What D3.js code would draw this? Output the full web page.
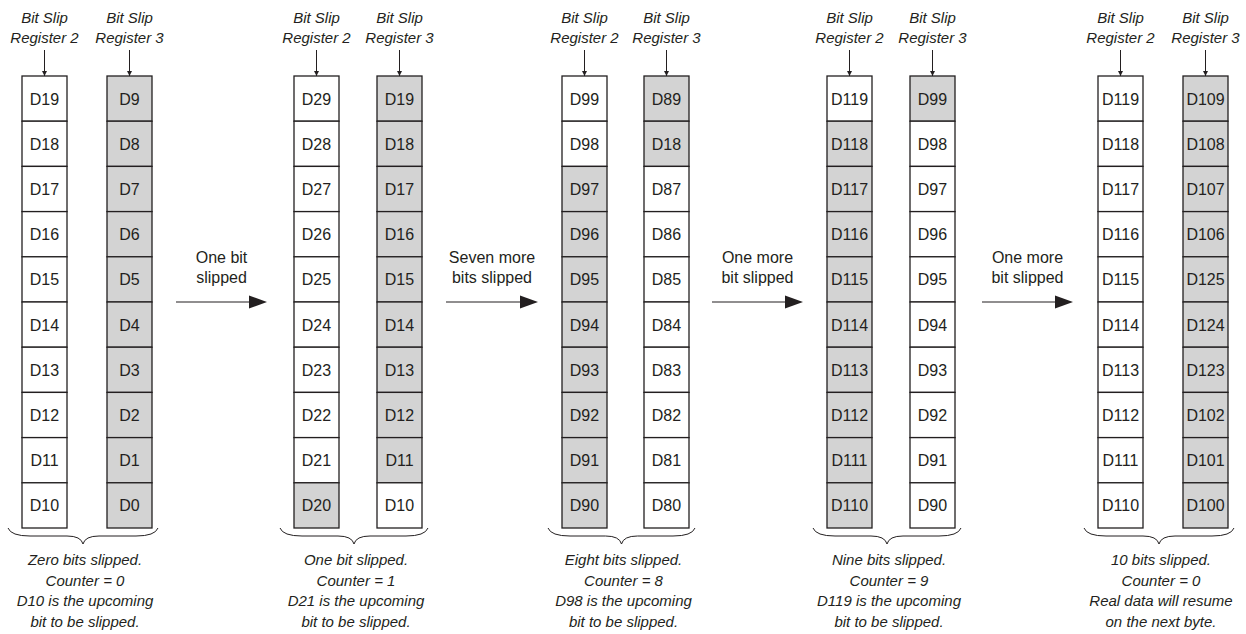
<!DOCTYPE html>
<html>
<head>
<meta charset="utf-8">
<script src="https://cdn.jsdelivr.net/npm/d3@7"></script>
<style>
  html, body { margin: 0; padding: 0; background: #fff; }
  svg { display: block; }
  text { font-family: "Liberation Sans", Arial, Helvetica, sans-serif; fill: #231f20; }
</style>
</head>
<body>
<svg id="chart" width="1246" height="634"></svg>
<script>
// ---- data ----
const headerLines = ["Bit Slip", "Register 2", "Register 3"];

const reg2Labels = [
  ["D19","D18","D17","D16","D15","D14","D13","D12","D11","D10"],
  ["D29","D28","D27","D26","D25","D24","D23","D22","D21","D20"],
  ["D99","D98","D97","D96","D95","D94","D93","D92","D91","D90"],
  ["D119","D118","D117","D116","D115","D114","D113","D112","D111","D110"],
  ["D119","D118","D117","D116","D115","D114","D113","D112","D111","D110"]
];
const reg2Shaded = [
  [0,0,0,0,0,0,0,0,0,0],
  [0,0,0,0,0,0,0,0,0,1],
  [0,0,1,1,1,1,1,1,1,1],
  [0,1,1,1,1,1,1,1,1,1],
  [0,0,0,0,0,0,0,0,0,0]
];
const reg3Labels = [
  ["D9","D8","D7","D6","D5","D4","D3","D2","D1","D0"],
  ["D19","D18","D17","D16","D15","D14","D13","D12","D11","D10"],
  ["D89","D18","D87","D86","D85","D84","D83","D82","D81","D80"],
  ["D99","D98","D97","D96","D95","D94","D93","D92","D91","D90"],
  ["D109","D108","D107","D106","D125","D124","D123","D102","D101","D100"]
];
const reg3Shaded = [
  [1,1,1,1,1,1,1,1,1,1],
  [1,1,1,1,1,1,1,1,1,0],
  [1,1,0,0,0,0,0,0,0,0],
  [1,0,0,0,0,0,0,0,0,0],
  [1,1,1,1,1,1,1,1,1,1]
];
const captions = [
  ["Zero bits slipped.", "Counter = 0", "D10 is the upcoming", "bit to be slipped."],
  ["One bit slipped.", "Counter = 1", "D21 is the upcoming", "bit to be slipped."],
  ["Eight bits slipped.", "Counter = 8", "D98 is the upcoming", "bit to be slipped."],
  ["Nine bits slipped.", "Counter = 9", "D119 is the upcoming", "bit to be slipped."],
  ["10 bits slipped.", "Counter = 0", "Real data will resume", "on the next byte."]
];
const arrowLabels = [
  ["One bit", "slipped"],
  ["Seven more", "bits slipped"],
  ["One more", "bit slipped"],
  ["One more", "bit slipped"]
];

// ---- layout ----
const reg2X = [22, 294, 562, 827, 1098];
const reg3X = [107, 377, 644, 910, 1183];
const arrowX = [[176, 267], [446, 538], [712, 803], [982, 1073]];
const colW = 45;
const colTop = 76, colBottom = 528;
const ink = "#231f20", shade = "#d3d3d3";

const svg = d3.select("#chart");
const yBand = d3.scaleBand().domain(d3.range(10)).range([colTop, colBottom]).paddingInner(0).paddingOuter(0);

svg.append("defs").append("marker")
  .attr("id", "vhead").attr("viewBox", "0 0 10 10").attr("refX", 10).attr("refY", 5)
  .attr("markerWidth", 5).attr("markerHeight", 7).attr("markerUnits", "userSpaceOnUse")
  .attr("orient", "auto")
  .append("path").attr("d", "M0,0 L10,5 L0,10 Z").attr("fill", ink);

function drawColumn(x, labels, shaded, regName) {
  const g = svg.append("g");
  const cx = x + colW / 2;
  // header
  const t = g.append("text").attr("text-anchor", "middle")
    .attr("font-style", "italic").attr("font-size", "15px");
  t.append("tspan").attr("x", cx).attr("y", 23).text(headerLines[0]);
  t.append("tspan").attr("x", cx).attr("y", 43).text(regName);
  // pointer arrow
  g.append("line").attr("x1", cx).attr("x2", cx).attr("y1", 50).attr("y2", colTop)
    .attr("stroke", ink).attr("stroke-width", 1).attr("marker-end", "url(#vhead)");
  // cells
  const cells = g.selectAll("g.cell").data(labels).join("g").attr("class", "cell");
  cells.append("rect")
    .attr("x", x).attr("y", (d, i) => yBand(i))
    .attr("width", colW).attr("height", yBand.bandwidth())
    .attr("fill", (d, i) => shaded[i] ? shade : "#fff")
    .attr("stroke", ink).attr("stroke-width", 1.3);
  cells.append("text")
    .attr("x", cx).attr("y", (d, i) => yBand(i) + yBand.bandwidth() / 2 + 6)
    .attr("text-anchor", "middle").attr("font-size", "16px")
    .text(d => d);
}

reg2X.forEach((x, gi) => {
  drawColumn(reg2X[gi], reg2Labels[gi], reg2Shaded[gi], headerLines[1]);
  drawColumn(reg3X[gi], reg3Labels[gi], reg3Shaded[gi], headerLines[2]);

  // brace
  const x0 = reg2X[gi] - 14, x1 = reg3X[gi] + colW + 6;
  const tip = (reg2X[gi] + reg3X[gi] + colW) / 2 - 4;
  const y0 = colBottom, ym = colBottom + 8, yt = colBottom + 16;
  const p = d3.path();
  p.moveTo(x0, y0);
  p.quadraticCurveTo(x0 + 3, ym, x0 + 22, ym);
  p.lineTo(tip - 16, ym);
  p.quadraticCurveTo(tip - 2, ym, tip, yt);
  p.quadraticCurveTo(tip + 2, ym, tip + 16, ym);
  p.lineTo(x1 - 22, ym);
  p.quadraticCurveTo(x1 - 3, ym, x1, y0);
  svg.append("path").attr("d", p.toString()).attr("fill", "none")
    .attr("stroke", ink).attr("stroke-width", 1);

  // caption
  const c = svg.append("text").attr("text-anchor", "middle")
    .attr("font-style", "italic").attr("font-size", "15px");
  captions[gi].forEach((line, li) => {
    c.append("tspan").attr("x", tip + 2).attr("y", 565 + li * 20.6).text(line);
  });
});

// transition arrows
arrowX.forEach(([xa, xb], ai) => {
  const g = svg.append("g");
  const ay = 302;
  g.append("line").attr("x1", xa).attr("x2", xb - 16).attr("y1", ay).attr("y2", ay)
    .attr("stroke", ink).attr("stroke-width", 1.2);
  g.append("path")
    .attr("d", `M${xb - 18},${ay - 6.5} L${xb},${ay} L${xb - 18},${ay + 6.5} Z`)
    .attr("fill", ink);
  const mid = (xa + xb) / 2;
  const t = g.append("text").attr("text-anchor", "middle").attr("font-size", "16px");
  t.append("tspan").attr("x", mid).attr("y", 263).text(arrowLabels[ai][0]);
  t.append("tspan").attr("x", mid).attr("y", 283).text(arrowLabels[ai][1]);
});
</script>
</body>
</html>
